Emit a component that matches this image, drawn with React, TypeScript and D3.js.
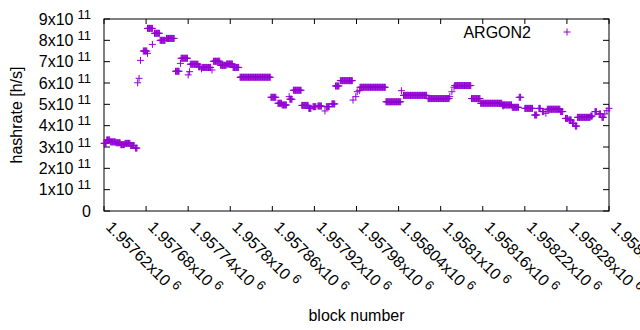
import React from 'react';
import * as d3 from 'd3';

// block ranges [first, last, hashrate in 1e11 h/s], one point per block
const ARGON2_RUNS: [number, number, number][] = [
  [1957620, 1957623, 3.17], [1957624, 1957628, 3.33], [1957629, 1957636, 3.24],
  [1957637, 1957643, 3.2], [1957644, 1957649, 3.11], [1957650, 1957657, 3.17],
  [1957658, 1957663, 3.07], [1957665, 1957667, 2.95],
  [1957668, 1957668, 6.01], [1957670, 1957670, 6.22], [1957672, 1957672, 7.06],
  [1957676, 1957681, 7.5], [1957682, 1957682, 7.39], [1957682, 1957689, 8.56],
  [1957689, 1957689, 7.81], [1957692, 1957699, 8.33], [1957700, 1957707, 8.0],
  [1957709, 1957720, 8.09], [1957722, 1957727, 6.55], [1957729, 1957729, 6.92],
  [1957730, 1957739, 7.16], [1957740, 1957740, 6.38], [1957742, 1957742, 6.53],
  [1957743, 1957754, 6.88], [1957755, 1957757, 6.76], [1957759, 1957759, 6.66],
  [1957760, 1957772, 6.73], [1957774, 1957774, 6.61], [1957776, 1957785, 7.02],
  [1957786, 1957794, 6.83], [1957795, 1957803, 6.89], [1957804, 1957812, 6.73],
  [1957814, 1957857, 6.27], [1957858, 1957865, 5.33], [1957868, 1957873, 5.05],
  [1957874, 1957880, 4.97], [1957884, 1957884, 5.36], [1957885, 1957888, 5.24],
  [1957890, 1957901, 5.66], [1957902, 1957911, 4.95], [1957912, 1957915, 4.81],
  [1957918, 1957922, 4.89], [1957925, 1957930, 4.92], [1957935, 1957935, 4.69],
  [1957937, 1957941, 4.89], [1957945, 1957949, 5.02], [1957950, 1957955, 5.86],
  [1957957, 1957974, 6.11], [1957975, 1957975, 5.2], [1957979, 1957979, 5.36],
  [1957981, 1957981, 5.59], [1957984, 1957984, 5.64], [1957985, 1958021, 5.8],
  [1958022, 1958043, 5.12], [1958044, 1958044, 5.64], [1958047, 1958080, 5.42],
  [1958082, 1958112, 5.27], [1958113, 1958113, 5.36], [1958116, 1958116, 5.59],
  [1958119, 1958119, 5.8], [1958120, 1958143, 5.88], [1958144, 1958156, 5.27],
  [1958157, 1958187, 5.05], [1958189, 1958189, 4.92], [1958188, 1958201, 4.97],
  [1958202, 1958211, 4.86], [1958212, 1958214, 5.33], [1958220, 1958231, 4.81],
  [1958234, 1958237, 4.5], [1958240, 1958242, 4.81], [1958245, 1958247, 4.66],
  [1958250, 1958250, 4.58], [1958252, 1958270, 4.77], [1958271, 1958274, 4.66],
  [1958278, 1958281, 4.34], [1958283, 1958286, 4.27], [1958288, 1958290, 4.11],
  [1958292, 1958294, 3.98], [1958295, 1958313, 4.39], [1958314, 1958316, 4.45],
  [1958320, 1958322, 4.66], [1958326, 1958328, 4.55], [1958330, 1958332, 4.39],
  [1958334, 1958334, 4.55], [1958337, 1958337, 4.7], [1958340, 1958340, 4.81],
];

const X_TICKS = [1957620, 1957680, 1957740, 1957800, 1957860, 1957920, 1957980,
  1958040, 1958100, 1958160, 1958220, 1958280, 1958340];
const X_TICK_LABELS = ['1.95762', '1.95768', '1.95774', '1.9578', '1.95786', '1.95792',
  '1.95798', '1.95804', '1.9581', '1.95816', '1.95822', '1.95828', '1.95834'];
const Y_TICKS = [0, 1, 2, 3, 4, 5, 6, 7, 8, 9];

const W = 640;
const H = 330;
const margin = { left: 104, right: 31, top: 19, bottom: 119 };
const COLOR = '#9400d3';
const FONT = '"Liberation Sans", Arial, sans-serif';

const App: React.FC = () => {
  const x = d3.scaleLinear()
    .domain([X_TICKS[0], X_TICKS[X_TICKS.length - 1]])
    .range([margin.left, W - margin.right]);
  const y = d3.scaleLinear()
    .domain([0, 9e11])
    .range([H - margin.bottom, margin.top]);

  const points: { block: number; value: number }[] = [];
  ARGON2_RUNS.forEach(([from, to, v]) => {
    for (let b = from; b <= to; b++) points.push({ block: b, value: v * 1e11 });
  });

  const s = 3.5;
  const plus = (cx: number, cy: number) =>
    `M${cx - s},${cy}H${cx + s}M${cx},${cy - s}V${cy + s}`;
  const marks = points.map(p => plus(x(p.block), y(p.value))).join('');

  const [x0, x1] = x.range();
  const [y0, y1] = y.range();

  return (
    <div style={{ position: 'absolute', left: 0, top: 0 }}>
      <svg width={W} height={H} style={{ display: 'block', background: '#fff' }}
        fontFamily={FONT}>
        {/* ticks */}
        <g stroke="#000" strokeWidth={1}>
          {Y_TICKS.map(t => (
            <g key={'y' + t}>
              <line x1={x0} x2={x0 + 6} y1={y(t * 1e11)} y2={y(t * 1e11)} />
              <line x1={x1} x2={x1 - 6} y1={y(t * 1e11)} y2={y(t * 1e11)} />
            </g>
          ))}
          {X_TICKS.map(t => (
            <g key={'x' + t}>
              <line x1={x(t)} x2={x(t)} y1={y0} y2={y0 - 5} />
              <line x1={x(t)} x2={x(t)} y1={y1} y2={y1 + 5} />
            </g>
          ))}
        </g>
        <rect x={x0} y={y1} width={x1 - x0} height={y0 - y1} fill="none" stroke="#000" strokeWidth={1} />

        {/* y tick labels */}
        {Y_TICKS.map(t => (
          <text key={'yl' + t} x={91} y={y(t * 1e11) + 5.5} textAnchor="end" fontSize={16} fill="#000">
            {t === 0 ? '0' : (
              <>
                {t}x10
                <tspan dx={4} dy={-6} fontSize={13}>11</tspan>
              </>
            )}
          </text>
        ))}

        {/* x tick labels */}
        {X_TICKS.map((t, i) => (
          <text key={'xl' + t} transform={`translate(${x(t) + 1},${y0 + 17}) rotate(45)`}
            fontSize={16} fill="#000">
            {X_TICK_LABELS[i]}x10
            <tspan dx={4} dy={-6} fontSize={13}>6</tspan>
          </text>
        ))}

        {/* axis titles */}
        <text transform={`translate(21.5,${(y0 + y1) / 2}) rotate(-90)`} textAnchor="middle"
          fontSize={16} fill="#000">hashrate [h/s]</text>
        <text x={(x0 + x1) / 2} y={320.5} textAnchor="middle" fontSize={16} fill="#000">block number</text>

        {/* data */}
        <path d={marks} fill="none" stroke={COLOR} strokeWidth={1} />

        {/* legend */}
        <text x={531} y={37.5} textAnchor="end" fontSize={16} fill="#000">ARGON2</text>
        <path d={plus(567, 32)} fill="none" stroke={COLOR} strokeWidth={1} />
      </svg>
    </div>
  );
};

export default App;
